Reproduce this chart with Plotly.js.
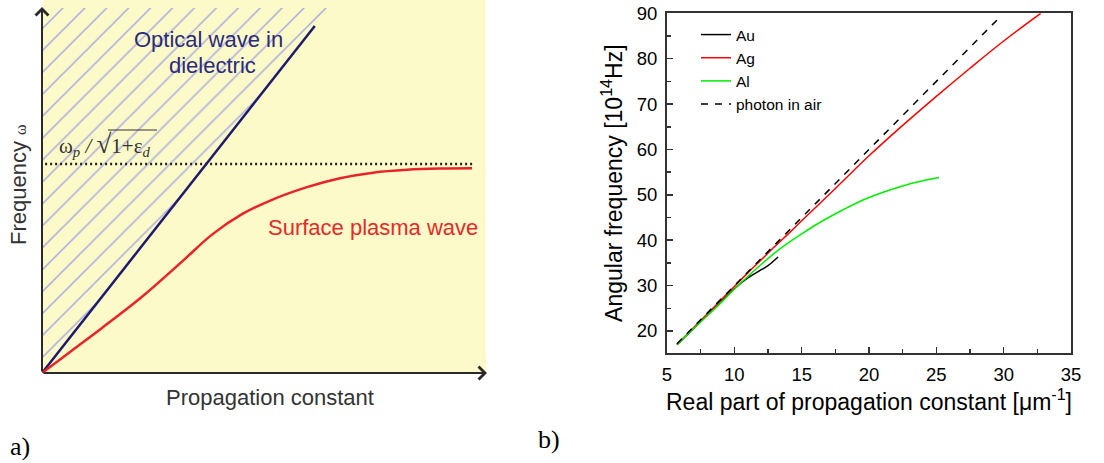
<!DOCTYPE html>
<html>
<head>
<meta charset="utf-8">
<script src="https://cdn.plot.ly/plotly-3.0.1.min.js"></script>
<style>html,body{margin:0;padding:0;background:#fff}#chart{width:1104px;height:463px}</style>
</head>
<body>
<div id="chart"></div>
<script>
// ---------- Panel a (schematic, arbitrary units 0..100) ----------
const lightK = [0, 61.3];
const lightW = [0, 94.8];
const hatchK = [0, 64.3, 0, 0];
const hatchW = [0, 99.7, 99.7, 0];
const spK = [0, 6.74, 13.48, 22.47, 31.46, 38.20, 44.94, 51.69, 59.55, 66.97, 74.38, 82.02, 89.44, 96.63];
const spW = [0, 6.15, 12.30, 20.82, 30.44, 37.81, 43.39, 47.32, 50.77, 53.20, 54.73, 55.52, 55.85, 55.93];
const asymK = [0.7, 96.9];
const asymW = [57.1, 57.1];

// ---------- Panel b (dispersion curves) ----------
const auK = [5.74, 7, 8, 9, 10, 11, 12, 12.5, 13.25];
const auW = [17.0, 20.6, 23.5, 26.4, 29.3, 31.7, 33.5, 34.4, 36.3];
const agK = [5.74, 7, 8, 9, 10, 11, 12, 13, 14, 15, 17.5, 20, 22.5, 25, 27.5, 30, 32.75];
const agW = [17.0, 20.8, 23.8, 26.8, 29.8, 32.8, 35.7, 38.6, 41.4, 44.3, 51.4, 58.6, 65.3, 71.7, 77.9, 83.9, 90.0];
const alK = [5.74, 7, 8, 9, 10, 11, 12, 13, 14, 15, 16, 17, 18, 19, 20, 21, 22, 23, 24, 25.2];
const alW = [17.0, 20.6, 23.4, 26.2, 29.2, 32.0, 34.7, 37.2, 39.4, 41.4, 43.3, 45.0, 46.6, 48.1, 49.4, 50.5, 51.5, 52.4, 53.1, 53.8];
const airK = [5.74, 29.8];
const airW = [17.2, 89.4];
const seriesNames = ['Au', 'Ag', 'Al', 'photon in air'];

const W = 1104, H = 463;
const px = x => x / W;
const py = y => (H - y) / H;
const SANS = 'Liberation Sans, Arial, sans-serif';
const SERIF = 'Liberation Serif, Times New Roman, serif';

const traces = [
  // panel a
  {x: hatchK, y: hatchW, xaxis: 'x2', yaxis: 'y2', mode: 'none', fill: 'toself',
   fillcolor: 'rgba(0,0,0,0)',
   fillpattern: {shape: '/', fgcolor: '#ababe0', bgcolor: 'rgba(0,0,0,0)', size: 15.5, solidity: 0.1},
   showlegend: false, hoverinfo: 'skip'},
  {x: asymK, y: asymW, xaxis: 'x2', yaxis: 'y2', mode: 'lines',
   line: {color: '#222', width: 2.5, dash: '2px,3px'}, showlegend: false, hoverinfo: 'skip'},
  {x: lightK, y: lightW, xaxis: 'x2', yaxis: 'y2', mode: 'lines',
   line: {color: '#1e1a6c', width: 2.5}, showlegend: false, hoverinfo: 'skip'},
  {x: spK, y: spW, xaxis: 'x2', yaxis: 'y2', mode: 'lines', line: {color: '#e8232a', width: 2.5, shape: 'spline', smoothing: 1},
   showlegend: false, hoverinfo: 'skip'},
  // panel b
  {x: auK, y: auW, name: seriesNames[0], mode: 'lines', line: {color: '#000000', width: 1.5, shape: 'spline'}},
  {x: agK, y: agW, name: seriesNames[1], mode: 'lines', line: {color: '#ff0000', width: 1.5, shape: 'spline'}},
  {x: alK, y: alW, name: seriesNames[2], mode: 'lines', line: {color: '#00ee00', width: 1.5, shape: 'spline'}},
  {x: airK, y: airW, name: seriesNames[3], mode: 'lines', line: {color: '#000000', width: 1.5, dash: '7px,7px'}}
];

const axColor = '#333';
const layout = {
  width: W, height: H,
  margin: {l: 0, r: 0, t: 0, b: 0, pad: 0},
  paper_bgcolor: '#ffffff', plot_bgcolor: 'rgba(0,0,0,0)',
  font: {family: SANS, color: '#000'},
  showlegend: true,
  legend: {x: px(696), y: py(18), xanchor: 'left', yanchor: 'top', bgcolor: 'rgba(0,0,0,0)',
           font: {family: SANS, size: 15.5, color: '#000'}, tracegroupgap: 0, itemwidth: 30},
  xaxis: {
    domain: [px(667), px(1071)], range: [5, 35], dtick: 5, tick0: 0,
    ticks: 'inside', ticklen: 6, tickwidth: 1.5, tickcolor: axColor,
    showline: true, linecolor: axColor, linewidth: 2, mirror: true,
    showgrid: false, zeroline: false, tickfont: {size: 18.5, color: '#000'}, ticklabelstandoff: 4,
    minor: {ticks: 'inside', ticklen: 4, dtick: 2.5, tickwidth: 1.5, tickcolor: axColor, showgrid: false},
    title: {text: 'Real part of propagation constant [μm<sup>-1</sup>]', font: {size: 23, color: '#000'}, standoff: 8},
    anchor: 'y', automargin: false
  },
  yaxis: {
    domain: [py(353), py(13.3)], range: [15.15, 90], dtick: 10, tick0: 0,
    ticks: 'inside', ticklen: 6, tickwidth: 1.5, tickcolor: axColor,
    showline: true, linecolor: axColor, linewidth: 2, mirror: true,
    showgrid: false, zeroline: false, tickfont: {size: 18.5, color: '#000'}, ticklabelstandoff: 4,
    minor: {ticks: 'inside', ticklen: 4, dtick: 5, tickwidth: 1.5, tickcolor: axColor, showgrid: false},
    title: {text: 'Angular frequency [10<sup>14</sup>Hz]', font: {size: 23, color: '#000'}, standoff: 8},
    anchor: 'x', automargin: false
  },
  xaxis2: {domain: [px(42), px(487)], range: [0, 100], visible: false, anchor: 'y2', fixedrange: true},
  yaxis2: {domain: [py(373), py(7)], range: [0, 100], visible: false, anchor: 'x2', fixedrange: true},
  shapes: [
    {type: 'rect', xref: 'paper', yref: 'paper', x0: px(43), x1: px(486), y0: py(372), y1: py(0),
     fillcolor: '#fcfac8', line: {width: 0}, layer: 'below'},
    // overline of the square root in the formula
    {type: 'line', xref: 'paper', yref: 'paper', x0: px(108), x1: px(157), y0: py(130), y1: py(130),
     line: {color: '#333', width: 1.2}}
  ],
  annotations: [
    // axis arrows of panel a
    {xref: 'x2', yref: 'y2', axref: 'x2', ayref: 'y2', x: 0, y: 100, ax: 0, ay: 0, text: '',
     showarrow: true, arrowhead: 4, arrowsize: 1.25, arrowwidth: 2, arrowcolor: '#2a2a2a', standoff: 0},
    {xref: 'x2', yref: 'y2', axref: 'x2', ayref: 'y2', x: 100, y: 0, ax: 0, ay: 0, text: '',
     showarrow: true, arrowhead: 4, arrowsize: 1.25, arrowwidth: 2, arrowcolor: '#2a2a2a', standoff: 0},
    {xref: 'paper', yref: 'paper', x: px(208), y: py(39), text: 'Optical wave in', showarrow: false,
     font: {family: SANS, size: 22, color: '#2b2a7c'}, xanchor: 'center', yanchor: 'middle'},
    {xref: 'paper', yref: 'paper', x: px(212), y: py(65), text: 'dielectric', showarrow: false,
     font: {family: SANS, size: 22, color: '#2b2a7c'}, xanchor: 'center', yanchor: 'middle'},
    {xref: 'paper', yref: 'paper', x: px(373), y: py(227), text: 'Surface plasma wave', showarrow: false,
     font: {family: SANS, size: 22, color: '#e42a2a'}, xanchor: 'center', yanchor: 'middle'},
    {xref: 'paper', yref: 'paper', x: px(18), y: py(185), text: "Frequency <span style='font-family:Liberation Serif;font-size:16px'>ω</span>",
     showarrow: false, textangle: -90, font: {family: SANS, size: 22, color: '#333'}, xanchor: 'center', yanchor: 'middle'},
    {xref: 'paper', yref: 'paper', x: px(270), y: py(397), text: 'Propagation constant', showarrow: false,
     font: {family: SANS, size: 22, color: '#333'}, xanchor: 'center', yanchor: 'middle'},
    {xref: 'paper', yref: 'paper', x: px(105), y: py(145),
     text: "ω<sub><i>p</i></sub> <i>/</i> <span style='font-size:27px'>√</span>1+ε<sub><i>d</i></sub>", showarrow: false,
     font: {family: SERIF, size: 21, color: '#333'}, xanchor: 'center', yanchor: 'middle'},
    {xref: 'paper', yref: 'paper', x: px(20), y: py(446), text: 'a)', showarrow: false,
     font: {family: SERIF, size: 26, color: '#000'}, xanchor: 'center', yanchor: 'middle'},
    {xref: 'paper', yref: 'paper', x: px(549), y: py(439), text: 'b)', showarrow: false,
     font: {family: SERIF, size: 26, color: '#000'}, xanchor: 'center', yanchor: 'middle'}
  ]
};

Plotly.newPlot('chart', traces, layout, {staticPlot: true, displayModeBar: false});
</script>
</body>
</html>
